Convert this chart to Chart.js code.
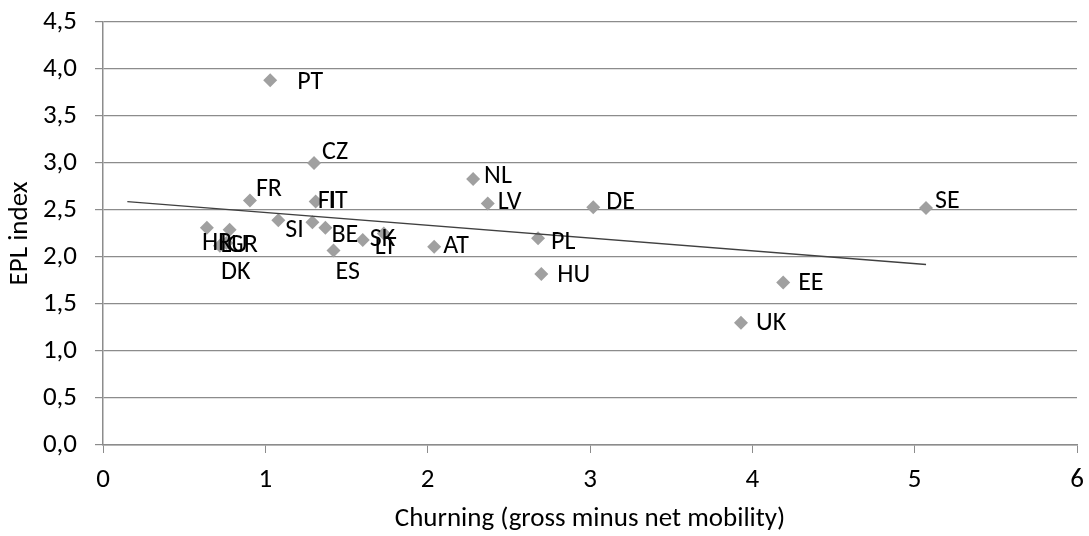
<!DOCTYPE html>
<html>
<head>
<meta charset="utf-8">
<script src="https://cdn.jsdelivr.net/npm/chart.js@4/dist/chart.umd.min.js"></script>
<style>
  html, body { margin: 0; padding: 0; background: #fff; }
  #wrap { width: 1089px; height: 536px; }
</style>
</head>
<body>
<div id="wrap"><canvas id="myChart" width="1089" height="536"></canvas></div>
<script>
// country codes and values
const countries = ["PT", "CZ", "FR", "FI", "IT", "SI", "HR", "LU", "GR", "DK", "BE", "ES", "SK", "LT", "AT", "NL", "LV", "DE", "PL", "HU", "SE", "EE", "UK"];
const churning = [1.03, 1.30, 0.905, 1.31, 1.29, 1.08, 0.64, 0.78, 0.76, 0.72, 1.37, 1.42, 1.60, 1.73, 2.04, 2.28, 2.37, 3.02, 2.68, 2.70, 5.07, 4.19, 3.93];
const eplIndex = [3.88, 3.00, 2.60, 2.59, 2.37, 2.39, 2.31, 2.29, 2.15, 2.12, 2.31, 2.07, 2.18, 2.25, 2.11, 2.83, 2.57, 2.53, 2.20, 1.82, 2.52, 1.73, 1.30];
// linear trend line, end points
const trendX = [0.15, 5.07];
const trendY = [2.59, 1.92];
const xTicks = [0, 1, 2, 3, 4, 5, 6];
const yTicks = [0, 0.5, 1, 1.5, 2, 2.5, 3, 3.5, 4, 4.5];

// label offsets in px (where Excel put each label)
const labelOffset = {
    PT: [27, 2], CZ: [8, -11], FR: [6, -11], FI: [2, 0], IT: [16, -21],
    SI: [7, 10], HR: [-5, 16], LU: [-9, 16], GR: [1, 3], DK: [1, 27],
    BE: [6, 8], ES: [2, 22], SK: [7, -1], LT: [-9, 14], AT: [9, 0],
    NL: [11, -2], LV: [10, -1], DE: [13, -5], PL: [13, 4], HU: [16, 2],
    SE: [9, -7], EE: [15, 1], UK: [15, 1]
};

const FONT = "Carlito, 'Open Sans', 'Liberation Sans', sans-serif";
const FSIZE = 27;
const LSIZE = 26;

const pointLabels = {
    id: "pointLabels",
    afterDatasetsDraw(chart) {
        const ctx = chart.ctx;
        const meta = chart.getDatasetMeta(1);
        ctx.save();
        ctx.font = LSIZE + "px " + FONT;
        ctx.fillStyle = "#000";
        ctx.textBaseline = "middle";
        ctx.textAlign = "left";
        meta.data.forEach((pt, i) => {
            const off = labelOffset[countries[i]] || [8, 0];
            ctx.fillText(countries[i], pt.x + off[0], pt.y + off[1]);
        });
        ctx.restore();
    }
};

const scatterData = churning.map((x, i) => ({ x: x, y: eplIndex[i] }));
const trendData = trendX.map((x, i) => ({ x: x, y: trendY[i] }));

new Chart(document.getElementById("myChart").getContext("2d"), {
    type: "scatter",
    data: {
        datasets: [
            {
                label: "Trend",
                type: "line",
                data: trendData,
                borderColor: "#404040",
                borderWidth: 1.3,
                pointRadius: 0,
                fill: false
            },
            {
                label: "EPL",
                data: scatterData,
                pointStyle: "rectRot",
                pointRadius: 7,
                backgroundColor: "#a0a0a0",
                borderColor: "#a0a0a0",
                borderWidth: 0
            }
        ]
    },
    options: {
        responsive: false,
        animation: false,
        layout: { padding: { top: 22, right: 12, left: 0, bottom: 0 } },
        plugins: {
            legend: { display: false },
            tooltip: { enabled: false }
        },
        scales: {
            x: {
                type: "linear",
                min: 0,
                max: 6,
                afterBuildTicks: (s) => { s.ticks = xTicks.map(v => ({ value: v })); },
                afterFit: (s) => {
                    s.height = 91;
                    s.paddingLeft = 0;
                    s.paddingRight = 0;
                },
                grid: {
                    drawOnChartArea: false,
                    drawTicks: true,
                    tickLength: 8,
                    color: "#8c8c8c"
                },
                border: { color: "#8c8c8c", width: 1.5 },
                ticks: {
                    color: "#000",
                    font: { family: FONT, size: FSIZE },
                    padding: 11,
                    maxRotation: 0
                },
                title: {
                    display: true,
                    text: "Churning (gross minus net mobility)",
                    color: "#000",
                    font: { family: FONT, size: FSIZE },
                    padding: { top: 0, bottom: 1 }
                }
            },
            y: {
                type: "linear",
                min: 0,
                max: 4.5,
                afterBuildTicks: (s) => { s.ticks = yTicks.map(v => ({ value: v })); },
                afterFit: (s) => {
                    s.width = 103;
                    s.paddingTop = 0;
                    s.paddingBottom = 0;
                },
                grid: {
                    color: "#8c8c8c",
                    lineWidth: 1.2,
                    tickLength: 8
                },
                border: { color: "#8c8c8c", width: 1.5 },
                ticks: {
                    color: "#000",
                    font: { family: FONT, size: FSIZE },
                    padding: 18,
                    callback: (v) => v.toFixed(1).replace(".", ",")
                },
                title: {
                    display: true,
                    text: "EPL index",
                    color: "#000",
                    font: { family: FONT, size: FSIZE },
                    padding: { top: 4, bottom: 0 }
                }
            }
        }
    },
    plugins: [pointLabels]
});
</script>
</body>
</html>
